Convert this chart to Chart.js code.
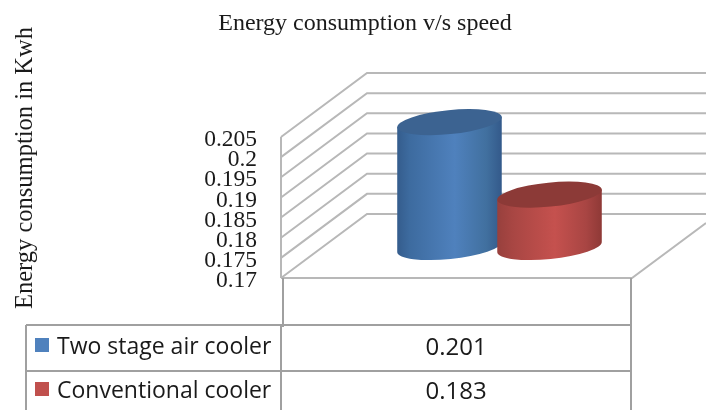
<!DOCTYPE html>
<html><head><meta charset="utf-8">
<style>html,body{margin:0;padding:0;background:#fff}#w{position:relative;width:706px;height:410px}canvas{filter:blur(0.4px)}</style>
<script src="https://cdn.jsdelivr.net/npm/chart.js@4"></script>
</head><body><div id="w"><canvas id="c" width="706" height="410"></canvas></div>
<script>
const categories = [''];
const seriesNames = ['Two stage air cooler', 'Conventional cooler'];
const twoStage = [0.201];
const conventional = [0.183];
const tickLabels = ['0.17','0.175','0.18','0.185','0.19','0.195','0.2','0.205'];
const chartTitle = 'Energy consumption v/s speed';
const yTitle = 'Energy consumption in Kwh';

const TITLE_SIZE = 24;
const DX = 86, DY = -64;
const grid = '#b8b8b8';

function line(ctx, pts, col, w) {
  ctx.beginPath();
  pts.forEach((p, i) => i ? ctx.lineTo(p[0], p[1]) : ctx.moveTo(p[0], p[1]));
  ctx.strokeStyle = col; ctx.lineWidth = w; ctx.stroke();
}

function cylinder(ctx, bar, stops, topCol) {
  const a = bar.width / 2 * 1.05, b = 12, rot = -0.1;
  const cx = bar.x + DX / 2, ty = bar.y + DY / 2 + 1, by = bar.base + DY / 2 + 1;
  const g = ctx.createLinearGradient(cx - a, 0, cx + a, 0);
  stops.forEach((s, i) => g.addColorStop(s[0], s[1]));
  const ex = a * Math.cos(rot), ey = a * Math.sin(rot);
  ctx.beginPath();
  ctx.moveTo(cx - ex, ty - ey);
  ctx.lineTo(cx - ex, by - ey);
  ctx.ellipse(cx, by, a, b, rot, Math.PI, 0, true);
  ctx.lineTo(cx + ex, ty + ey);
  ctx.closePath();
  ctx.fillStyle = g; ctx.fill();
  ctx.beginPath();
  ctx.ellipse(cx, ty, a, b, rot, 0, Math.PI * 2);
  ctx.fillStyle = topCol; ctx.fill();
}

const scene = {
  id: 'scene',
  beforeDatasetsDraw(chart) {
    const { ctx, chartArea: A, scales: { y } } = chart;
    const w = chart.width;
    y.ticks.forEach(t => {
      const py = y.getPixelForValue(t.value);
      line(ctx, [[A.left, py], [A.left + DX, py + DY], [w, py + DY]], grid, 2);
    });
    line(ctx, [[A.left, y.top], [A.left, A.bottom]], grid, 2);
    const b = A.bottom;
    line(ctx, [[A.left, b], [A.right, b], [w, b + DY * 0.86]], grid, 2);
  },
  afterDatasetsDraw(chart) {
    const { ctx } = chart;
    const blue = chart.getDatasetMeta(0).data[0];
    const red = chart.getDatasetMeta(1).data[0];
    cylinder(ctx, blue, [[0,'#345c8c'],[0.12,'#3d6b9f'],[0.55,'#4f81bd'],[0.85,'#41709f'],[1,'#33598a']], '#3c6391');
    cylinder(ctx, red, [[0,'#97403d'],[0.15,'#a84643'],[0.55,'#c5514e'],[0.85,'#a84543'],[1,'#8e3936']], '#8c3a37');
  },
  afterDraw(chart) {
    const { ctx, chartArea: A } = chart;
    ctx.save();
    ctx.translate(26, 168);
    ctx.rotate(-Math.PI / 2);
    ctx.font = '24.5px "Liberation Serif"';
    ctx.textAlign = 'center'; ctx.textBaseline = 'middle';
    ctx.fillStyle = '#1a1a1a';
    ctx.fillText(yTitle, 0, 0);
    ctx.restore();
    const L = 26, S = 281, R = A.right - 1, T = 325, M = 371, B = 416, col = '#a0a0a0';
    line(ctx, [[L, T], [R, T]], col, 2);
    line(ctx, [[L, M], [R, M]], col, 2);
    line(ctx, [[L, T], [L, B]], col, 2);
    line(ctx, [[S, T], [S, B]], col, 2);
    line(ctx, [[S + 2, 278], [S + 2, T + 2]], col, 2);
    line(ctx, [[R, 278], [R, B]], col, 2);
    const rows = [[seriesNames[0], twoStage[0], 347, chart.data.datasets[0].legendColor],
                  [seriesNames[1], conventional[0], 391, chart.data.datasets[1].legendColor]];
    ctx.textBaseline = 'middle';
    rows.forEach(r => {
      ctx.fillStyle = r[3];
      ctx.fillRect(35, r[2] - 9, 14, 14);
      ctx.fillStyle = '#1a1a1a';
      ctx.font = '23px "Open Sans"';
      ctx.textAlign = 'left';
      ctx.fillText(r[0], 57, r[2]);
      ctx.font = '24px "Open Sans"';
      ctx.textAlign = 'center';
      ctx.fillText(String(r[1]), (S + R) / 2, r[2] + 1);
    });
  }
};

new Chart(document.getElementById('c'), {
  type: 'bar',
  data: {
    labels: categories,
    datasets: [
      { label: seriesNames[0], data: twoStage, base: 0.17, backgroundColor: 'transparent', legendColor: '#4f81bd' },
      { label: seriesNames[1], data: conventional, base: 0.17, backgroundColor: 'transparent', legendColor: '#c0504d' }
    ]
  },
  plugins: [scene],
  options: {
    responsive: false,
    animation: false,
    layout: { padding: { left: 98, right: 74, top: 0, bottom: 132 } },
    datasets: { bar: { barPercentage: 1, categoryPercentage: 0.57 } },
    plugins: {
      legend: { display: false },
      tooltip: { enabled: false },
      title: {
        display: true, text: chartTitle, color: '#1a1a1a',
        font: { family: '"Liberation Serif"', size: TITLE_SIZE, weight: 'normal', lineHeight: 1.2 },
        padding: { top: 9, bottom: 137 - 9 - TITLE_SIZE * 1.2 }
      }
    },
    scales: {
      x: { display: false },
      y: {
        min: 0.17, max: 0.205,
        afterFit(s) { s.width = 183; },
        grid: { display: false, drawTicks: false },
        border: { display: false },
        ticks: {
          stepSize: 0.005, autoSkip: false, padding: 24, labelOffset: 3, color: '#1a1a1a',
          font: { family: '"Liberation Serif"', size: 23.5 },
          callback: (v, i) => tickLabels[i]
        }
      }
    }
  }
});
</script></body></html>
